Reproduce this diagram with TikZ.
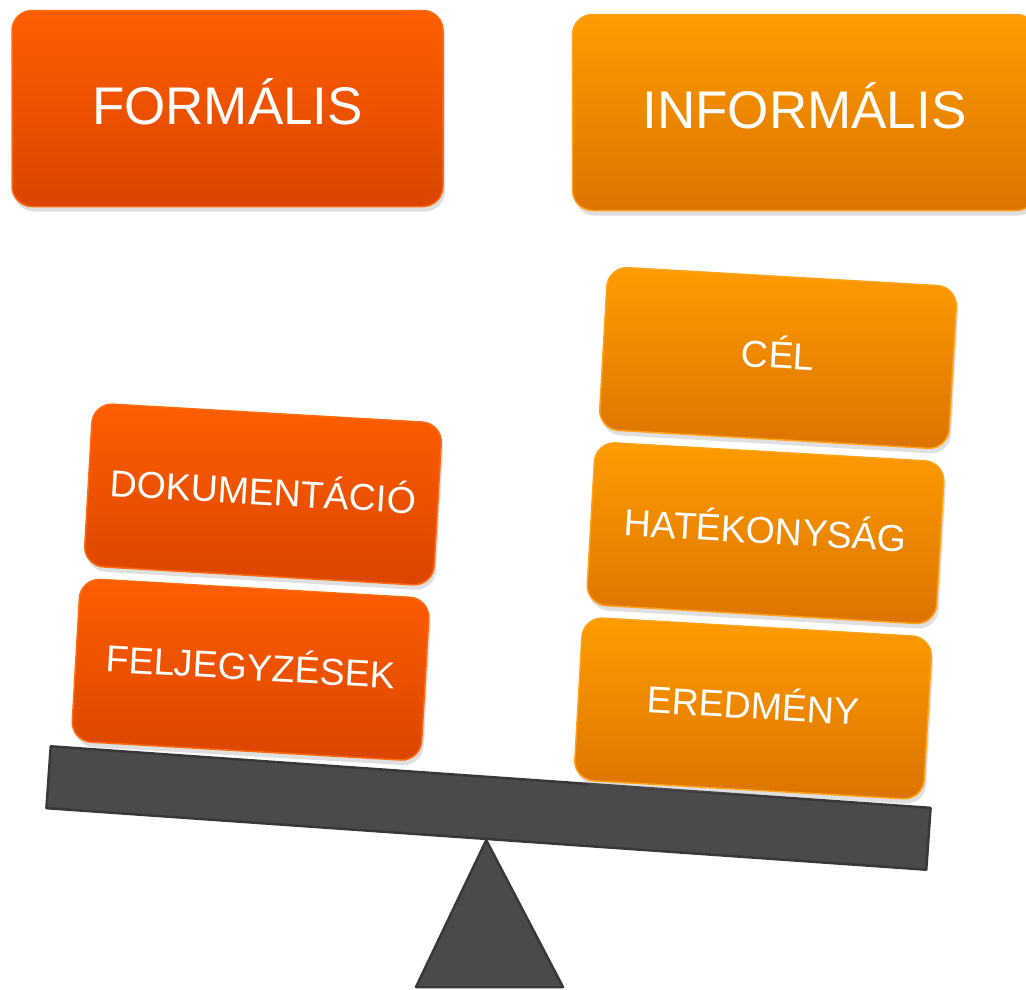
\documentclass[tikz,border=0pt]{standalone}
\usepackage{fontspec}
\setmainfont{Liberation Sans}
\usetikzlibrary{positioning,shadows}

\definecolor{redtop}{HTML}{FF5E00}
\definecolor{redbot}{HTML}{DA4500}
\definecolor{redline}{HTML}{FF6C10}
\definecolor{ortop}{HTML}{FE9C00}
\definecolor{orbot}{HTML}{DC7300}
\definecolor{orline}{HTML}{FFA21A}
\definecolor{beamfill}{HTML}{4A4A4A}
\definecolor{beamline}{HTML}{383838}

\begin{document}
\begin{tikzpicture}[x=1pt,y=-1pt,inner sep=0pt,node distance=11pt]

  \tikzstyle{plate}=[rectangle,rounded corners=20pt,line width=1.5pt,text=white,
                     drop shadow={shadow xshift=2pt,shadow yshift=-5pt,opacity=.25}]
  \tikzstyle{formal}=[plate,draw=redline,top color=redtop,bottom color=redbot]
  \tikzstyle{informal}=[plate,draw=orline,top color=ortop,bottom color=orbot]
  \tikzstyle{title}=[minimum height=196pt,text height=38pt,text depth=6pt,
                     font=\fontsize{53}{60}\selectfont]
  \tikzstyle{weight}=[minimum width=350pt,minimum height=163pt,rotate=-3.3,
                      text height=27pt,text depth=6pt,font=\fontsize{37.5}{42}\selectfont]
  \tikzstyle{beam}=[draw=beamline,fill=beamfill,line width=2.5pt,line join=round]

  \useasboundingbox (0,0) rectangle (1026,989);
  \clip (0,0) rectangle (1026,989);

  % the two headings
  \node[formal,title,minimum width=431pt] (FORM) at (227.5,108.5) {FORMÁLIS};
  \node[informal,title,minimum width=464pt] (INF) [right=128pt of FORM,yshift=-4pt] {INFORMÁLIS};

  % the seesaw
  \node[beam,rectangle,minimum width=882pt,minimum height=62pt,rotate=-4] (plank) at (488.5,808) {};
  \coordinate (baseL) at (416,987);
  \coordinate (baseR) at (563,987);
  \draw[beam] (plank.south) -- (baseR) -- (baseL) -- cycle;

  % left pile
  \node[formal,weight] (DOK) at (263,494.5) {DOKUMENTÁCIÓ};
  \node[formal,weight,anchor=north] (FEL) at ([yshift=-11pt,xshift=-3pt]DOK.south) {FELJEGYZÉSEK};

  % right pile
  \node[informal,weight] (CEL) at (778,358) {CÉL};
  \node[informal,weight,anchor=north] (HAT) at ([yshift=-11pt,xshift=-3pt]CEL.south) {HATÉKONYSÁG};
  \node[informal,weight,anchor=north] (ERE) at ([yshift=-11pt,xshift=-3pt]HAT.south) {EREDMÉNY};

\end{tikzpicture}
\end{document}
